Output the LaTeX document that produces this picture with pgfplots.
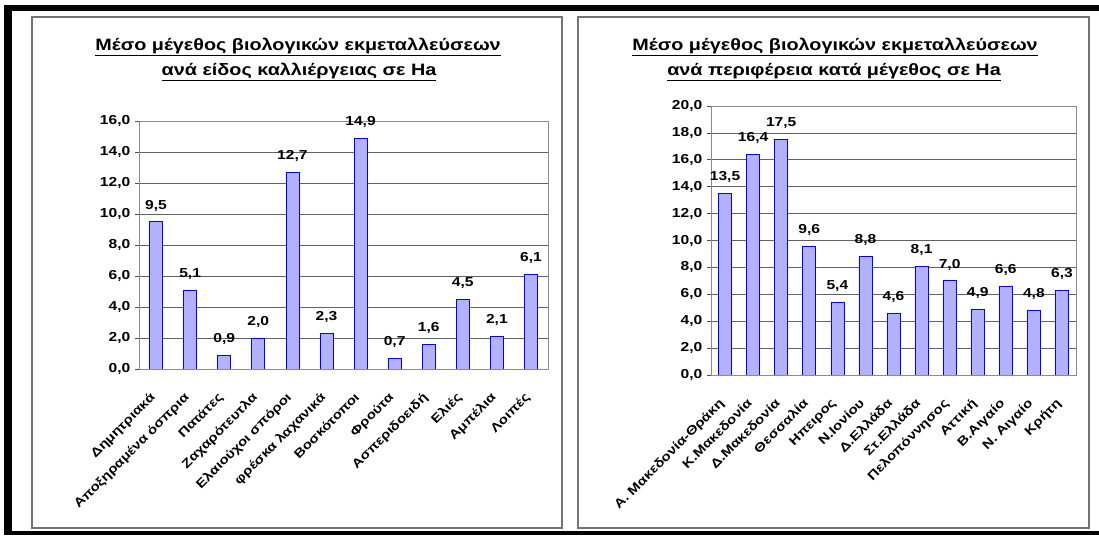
\documentclass[border=0pt]{standalone}
\usepackage{fontspec}
\setmainfont[FakeStretch=1.2]{Liberation Sans}
\usepackage{pgfplots}
\pgfplotsset{compat=1.18}
\definecolor{barfill}{HTML}{9999FF}
\pgfplotsset{
  mybar/.style={
    ybar, bar width=13pt, scale only axis, anchor=south west,
    ymin=0,
    ymajorgrids, grid style={black!62, line width=0.7pt},
    axis line style={black!45, line width=0.7pt},
    tick align=outside, tick pos=left,
    major tick length=4pt, minor tick length=4pt,
    tick style={black!70, line width=0.6pt},
    x tick style={draw=none},
    minor x tick style={black!70, line width=0.6pt},
    yticklabel style={font=\bfseries\fontsize{13}{13}\selectfont, inner sep=1.5pt, xshift=-3pt},
    yticklabel={\pgfmathprintnumber[fixed,fixed zerofill,precision=1,use comma,assume math mode=true]{\tick}},
    xticklabel style={xshift=-7pt, yshift=-17pt, font=\bfseries\fontsize{12.5}{13}\selectfont, rotate=45, anchor=north east, inner sep=1pt},
    every axis plot/.append style={fill=barfill, draw=black!80, line width=0.7pt},
    nodes near coords={\pgfmathprintnumber[fixed,fixed zerofill,precision=1,use comma,assume math mode=true]{\pgfplotspointmeta}},
    every node near coord/.append style={font=\bfseries\fontsize{13}{13}\selectfont, black, yshift=7pt},
  }
}
\begin{document}
\begin{tikzpicture}[x=1pt,y=1pt]
\path (0,0) rectangle (1099,535);
\fill[black] (4,524) rectangle (1099,530);
\fill[black] (4,0) rectangle (12,530);
\fill[black] (4,0) rectangle (1099,4);
\draw[line width=1.5pt, black!55] (32,7) rectangle (562,518);
\draw[line width=1.5pt, black!55] (578,7) rectangle (1089,518);
\node[font=\bfseries\fontsize{16.5}{17}\selectfont] at (298,488) {\underline{Μέσο μέγεθος βιολογικών εκμεταλλεύσεων}};
\node[font=\bfseries\fontsize{16.5}{17}\selectfont] at (299,463) {\underline{ανά είδος καλλιέργειας σε Ha}};
\node[font=\bfseries\fontsize{16.5}{17}\selectfont] at (835,488) {\underline{Μέσο μέγεθος βιολογικών εκμεταλλεύσεων}};
\node[font=\bfseries\fontsize{16.5}{17}\selectfont] at (834,463) {\underline{ανά περιφέρεια κατά μέγεθος σε Ha}};

\begin{axis}[mybar, at={(139pt,166pt)}, width=409pt, height=248pt,
  ymax=16, ytick={0,2,...,16},
  xmin=-0.5, xmax=11.5, xtick={0,...,11},
  minor xtick={-0.5,0.5,...,11.5},
  xticklabels={Δημητριακά, Αποξηραμένα όσπρια, Πατάτες, Ζαχαρότευτλα, Ελαιούχοι σπόροι, φρέσκα λαχανικά, Βοσκότοποι, Φρούτα, Ασπεριδοειδή, Ελιές, Αμπέλια, Λοιπές}]
\addplot coordinates {(0,9.5) (1,5.1) (2,0.9) (3,2.0) (4,12.7) (5,2.3) (6,14.9) (7,0.7) (8,1.6) (9,4.5) (10,2.1) (11,6.1)};
\end{axis}

\begin{axis}[mybar, at={(711pt,160pt)}, width=365pt, height=269pt,
  ymax=20, ytick={0,2,...,20},
  xmin=-0.5, xmax=12.5, xtick={0,...,12},
  minor xtick={-0.5,0.5,...,12.5},
  xticklabels={Α. Μακεδονία-Θράκη, Κ.Μακεδονία, Δ.Μακεδονία, Θεσσαλία, Ηπειρος, Ν.Ιονίου, Δ.Ελλάδα, Στ.Ελλάδα, Πελοπόννησος, Αττική, Β.Αιγαίο, Ν. Αιγαίο, Κρήτη}]
\addplot coordinates {(0,13.5) (1,16.4) (2,17.5) (3,9.6) (4,5.4) (5,8.8) (6,4.6) (7,8.1) (8,7.0) (9,4.9) (10,6.6) (11,4.8) (12,6.3)};
\end{axis}
\end{tikzpicture}
\end{document}
